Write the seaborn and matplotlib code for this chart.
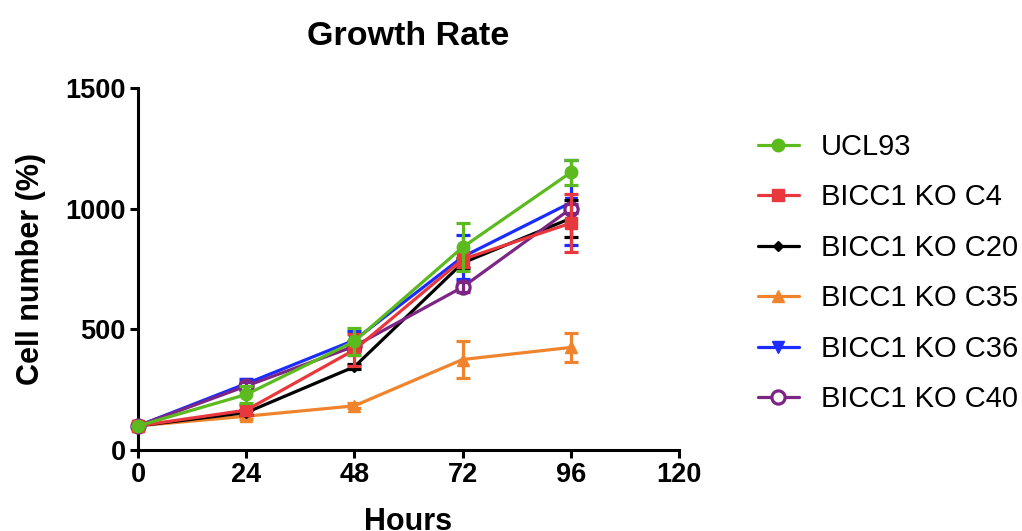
import numpy as np
import pandas as pd
import matplotlib
matplotlib.use("Agg")
import matplotlib.pyplot as plt
import seaborn as sns

# ---- data ----
hours = [0, 24, 48, 72, 96]
series_names = ["UCL93", "BICC1 KO C4", "BICC1 KO C20", "BICC1 KO C35", "BICC1 KO C36", "BICC1 KO C40"]
ucl93 = [100, 230, 450, 840, 1150]
ucl93_err = [0, 35, 55, 100, 50]
c4 = [100, 165, 415, 790, 940]
c4_err = [0, 20, 65, 30, 120]
c20 = [100, 155, 345, 775, 960]
c20_err = [0, 10, 10, 20, 77]
c35 = [100, 140, 183, 375, 425]
c35_err = [0, 10, 10, 75, 60]
c36 = [100, 275, 455, 800, 1025]
c36_err = [0, 20, 40, 90, 175]
c40 = [100, 265, 430, 675, 1000]
c40_err = [0, 15, 20, 20, 20]
x_ticks = [0, 24, 48, 72, 96, 120]
y_ticks = [0, 500, 1000, 1500]

values = [ucl93, c4, c20, c35, c36, c40]
errors = [ucl93_err, c4_err, c20_err, c35_err, c36_err, c40_err]
colors = ["#5BBA1E", "#E8383D", "#000000", "#F0842C", "#1A2CFF", "#7D2585"]
markers = ["o", "s", "D", "^", "v", "o"]
msizes = [9, 8.5, 5.5, 8.5, 8.5, 9.5]
filled = [True, True, True, True, True, False]
zorders = [8, 7, 5, 3, 4, 6]

sns.set_theme(style="ticks")
plt.rcParams['font.family'] = ['Liberation Sans', 'DejaVu Sans']
for k in ["text.color", "axes.labelcolor", "xtick.color", "ytick.color", "axes.edgecolor"]:
    plt.rcParams[k] = "black"

fig = plt.figure(figsize=(10.22, 5.31), dpi=100)
ax = fig.add_axes([138/1022, 1-450/531, (679-138)/1022, (450-88)/531])

for name, v, e, c, m, ms, f, z in zip(series_names, values, errors, colors, markers, msizes, filled, zorders):
    df = pd.DataFrame({"Hours": hours, "val": v})
    sns.lineplot(data=df, x="Hours", y="val", ax=ax, color=c, linewidth=2.3,
                 marker=m, markersize=ms,
                 markerfacecolor=(c if f else "white"),
                 markeredgecolor=c, markeredgewidth=(1 if f else 2.3),
                 label=name, clip_on=False, zorder=z)
    ax.errorbar(hours, v, yerr=e, fmt="none", ecolor=c, elinewidth=2.3,
                capsize=5, capthick=2.3, clip_on=False, zorder=z)

ax.set_xlim(0, 120)
ax.set_ylim(0, 1500)
ax.set_xticks(x_ticks)
ax.set_yticks(y_ticks)
ax.set_xticklabels([str(t) for t in x_ticks], fontsize=19.5, fontweight="bold")
ax.set_yticklabels([str(t) for t in y_ticks], fontsize=19.5, fontweight="bold")
ax.tick_params(axis="both", direction="out", length=6, width=2.2, colors="black", pad=3)
for s in ["left", "bottom"]:
    ax.spines[s].set_linewidth(2.2)
    ax.spines[s].set_color("black")
sns.despine(ax=ax)

ax.set_xlabel("Hours", fontsize=22, fontweight="bold", labelpad=13)
ax.set_ylabel("Cell number (%)", fontsize=22, fontweight="bold", labelpad=14)
ax.set_title("Growth Rate", fontsize=24.5, fontweight="bold", pad=31)

ax.get_legend().remove()
handles, labels = ax.get_legend_handles_labels()
fig.legend(handles, labels, loc="upper left", bbox_to_anchor=(758/1022, 1-133/531),
           frameon=False, fontsize=21, handlelength=1.4, handletextpad=0.75,
           labelspacing=0.77, borderpad=0, borderaxespad=0)

fig.savefig("out.png", dpi=100)
